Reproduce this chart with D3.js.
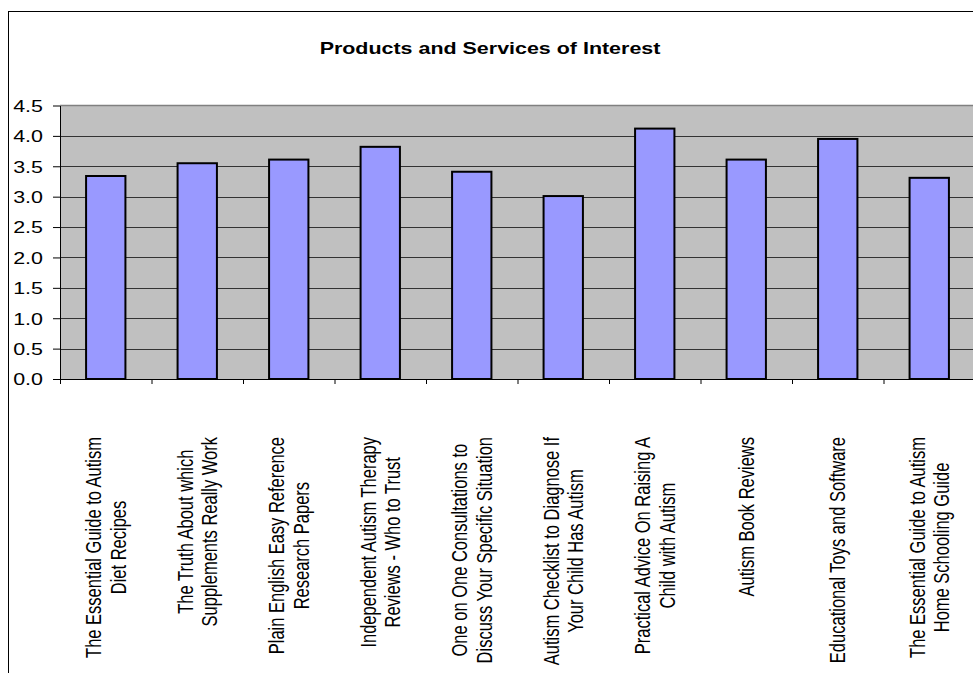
<!-- bar chart: products and services of interest -->
<html>
<head><title>Products and Services of Interest</title></head>
<script src="https://d3js.org/d3.v7.min.js"></script>
<style>
body { margin: 0; background: #fff; }
text { font-family: "Liberation Sans", Arial, sans-serif; }
</style>
<body>
<svg></svg>
<script>

// data
var categories = [
  ["The Essential Guide to Autism", "Diet Recipes"],
  ["The Truth About which", "Supplements Really Work"],
  ["Plain English Easy Reference", "Research Papers"],
  ["Independent Autism Therapy", "Reviews - Who to Trust"],
  ["One on One Consultations to", "Discuss Your Specific Situation"],
  ["Autism Checklist to Diagnose If", "Your Child Has Autism"],
  ["Practical Advice On Raising A", "Child with Autism"],
  ["Autism Book Reviews"],
  ["Educational Toys and Software"],
  ["The Essential Guide to Autism", "Home Schooling Guide"]
];
var values = [3.34, 3.55, 3.61, 3.82, 3.41, 3.01, 4.12, 3.61, 3.95, 3.31];
var yTicks = [0, 0.5, 1, 1.5, 2, 2.5, 3, 3.5, 4, 4.5];
var title = "Products and Services of Interest";

var width = 973, height = 673;
var plotLeft = 60, plotRight = 975, plotTop = 105.5, plotBottom = 379;
var stretch = 1.3;   // text in the picture is wider than it is tall
var fs = 16.5;

var svg = d3.select('svg').attr("width", width).attr("height", height);

// chart border
svg.append("rect")
  .attr("x", 8.5).attr("y", 11.5)
  .attr("width", 1000).attr("height", 700)
  .attr("fill", "none").attr("stroke", "#000").attr("stroke-width", 1);

var x = d3.scaleBand()
  .domain(d3.range(categories.length))
  .range([plotLeft, plotRight])
  .paddingInner(0.57).paddingOuter(0.285);

var edge = d3.scaleLinear().domain([0, categories.length]).range([plotLeft, plotRight]);

var y = d3.scaleLinear().domain([0, 4.5]).range([plotBottom, plotTop]);

// plot area
svg.append("rect")
  .attr("x", plotLeft).attr("y", y(4.5))
  .attr("width", plotRight - plotLeft).attr("height", y(0) - y(4.5))
  .attr("fill", "#c0c0c0");

// gridlines
svg.append("g").selectAll("line")
  .data(yTicks.filter(function(d) { return d > 0 && d < 4.5; }))
  .enter().append("line")
  .attr("x1", plotLeft).attr("x2", plotRight)
  .attr("y1", function(d) { return Math.round(y(d)) + 0.5; })
  .attr("y2", function(d) { return Math.round(y(d)) + 0.5; })
  .attr("stroke", "#333").attr("stroke-width", 1);

svg.append("line")
  .attr("x1", plotLeft).attr("x2", plotRight)
  .attr("y1", y(4.5)).attr("y2", y(4.5))
  .attr("stroke", "#808080").attr("stroke-width", 1.5);

// bars
svg.selectAll(".bar")
  .data(values)
  .enter().append("rect")
  .attr("class", "bar")
  .attr("x", function(d, i) { return x(i); })
  .attr("y", function(d) { return y(d); })
  .attr("width", x.bandwidth())
  .attr("height", function(d) { return y(0) - y(d); })
  .attr("fill", "#9999ff")
  .attr("stroke", "#000").attr("stroke-width", 2);

// y axis
var yAxis = svg.append("g")
  .attr("transform", "translate(" + plotLeft + ",0)")
  .call(d3.axisLeft(y).tickValues(yTicks).tickFormat(d3.format(".1f")).tickSize(7).tickSizeOuter(0));
yAxis.select(".domain").attr("stroke", "#000");
yAxis.selectAll(".tick line").attr("stroke", "#000");
yAxis.selectAll(".tick text")
  .attr("x", -17 / stretch)
  .attr("dy", "0.36em")
  .attr("transform", "scale(" + stretch + ",1)")
  .attr("font-size", fs)
  .attr("font-family", "Liberation Sans, Arial, sans-serif")
  .attr("fill", "#000");

// x axis
var xAxis = svg.append("g")
  .attr("transform", "translate(0," + plotBottom + ")")
  .call(d3.axisBottom(edge).tickValues(d3.range(categories.length + 1)).tickFormat("").tickSize(5).tickSizeOuter(0));
xAxis.select(".domain").attr("stroke", "#000");
xAxis.selectAll(".tick line").attr("stroke", "#000");

// category labels, rotated, wrapped lines centred on each other
var labelTop = 437, pitch = 19;
categories.forEach(function(lines, i) {
  var cx = x(i) + x.bandwidth() / 2;
  var g = svg.append("g")
    .attr("transform", "translate(" + cx + "," + labelTop + ") scale(" + stretch + ",1)");
  var texts = lines.map(function(t, j) {
    return g.append("text")
      .attr("transform", "rotate(-90)")
      .attr("text-anchor", "middle")
      .attr("font-size", fs)
      .attr("y", (j - (lines.length - 1) / 2) * pitch + 0.716 * fs / 2)
      .text(t);
  });
  var L = d3.max(texts, function(t) { return t.node().getComputedTextLength(); });
  texts.forEach(function(t) { t.attr("x", -L / 2); });
});

// title
svg.append("g")
  .attr("transform", "translate(490,54) scale(" + stretch + ",1)")
  .append("text")
  .attr("text-anchor", "middle")
  .attr("font-size", fs)
  .attr("font-weight", "bold")
  .text(title);

</script>
</body>
</html>
